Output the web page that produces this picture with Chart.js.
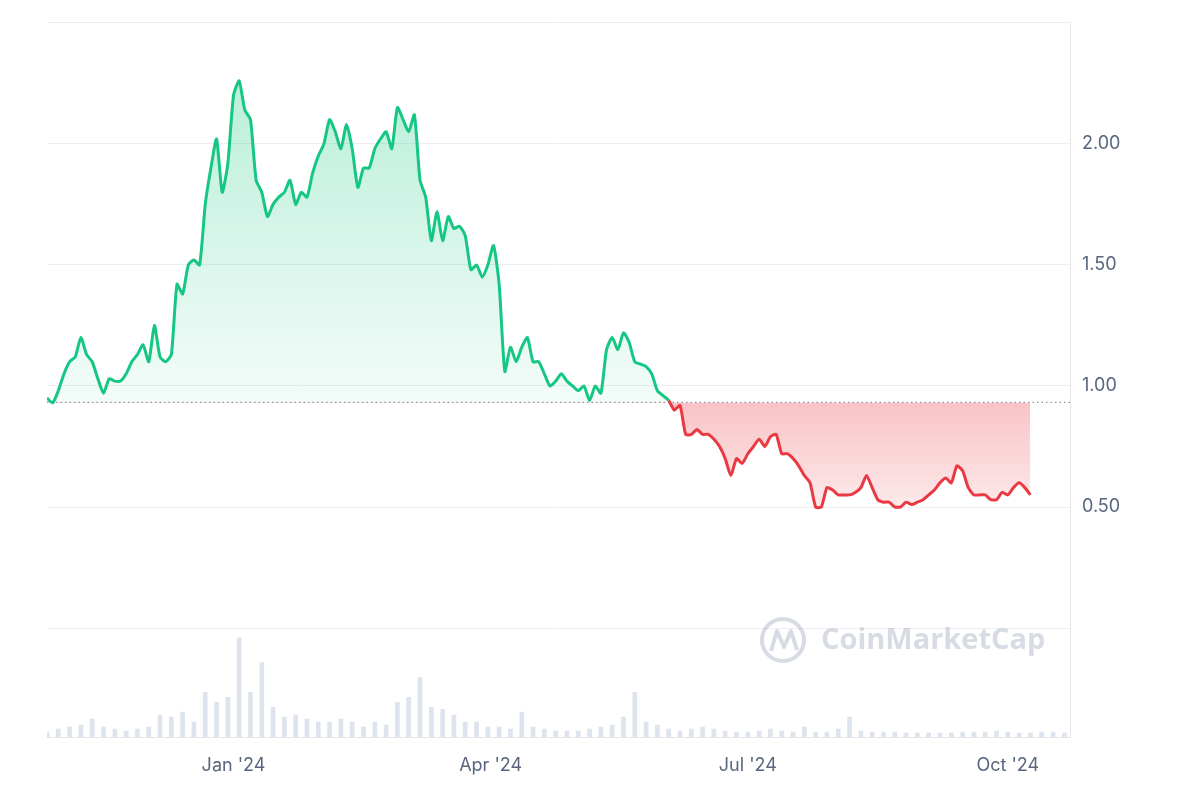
<!DOCTYPE html>
<html>
<head>
<meta charset="utf-8">
<script src="https://cdn.jsdelivr.net/npm/chart.js@4"></script>
<style>
  body { margin: 0; background: #fff; }
  #wrap { width: 1200px; height: 800px; }
</style>
</head>
<body>
<div id="wrap"><canvas id="priceChart"></canvas></div>
<script>
// prices, one point every 2 days starting 27 Oct 2023
const prices = [
  0.95, 0.93, 0.98, 1.05, 1.10, 1.12, 1.20, 1.13, 1.10, 1.03, 0.97, 1.03, 1.02, 1.02, 1.05, 1.10,
  1.13, 1.17, 1.10, 1.25, 1.12, 1.10, 1.13, 1.42, 1.38, 1.50, 1.52, 1.50, 1.75, 1.90, 2.02, 1.80,
  1.92, 2.20, 2.26, 2.14, 2.10, 1.85, 1.80, 1.70, 1.75, 1.78, 1.80, 1.85, 1.75, 1.80, 1.78, 1.88,
  1.95, 2.00, 2.10, 2.05, 1.98, 2.08, 1.98, 1.82, 1.90, 1.90, 1.98, 2.02, 2.05, 1.98, 2.15, 2.10,
  2.05, 2.12, 1.85, 1.78, 1.60, 1.72, 1.60, 1.70, 1.65, 1.66, 1.62, 1.48, 1.50, 1.45, 1.50, 1.58,
  1.42, 1.06, 1.16, 1.10, 1.16, 1.20, 1.10, 1.10, 1.05, 1.00, 1.02, 1.05, 1.02, 1.00, 0.98, 1.00,
  0.94, 1.00, 0.97, 1.15, 1.20, 1.15, 1.22, 1.18, 1.10, 1.09, 1.08, 1.05, 0.98, 0.96, 0.94, 0.90,
  0.92, 0.80, 0.80, 0.82, 0.80, 0.80, 0.78, 0.75, 0.70, 0.63, 0.70, 0.68, 0.72, 0.75, 0.78, 0.75,
  0.79, 0.80, 0.72, 0.72, 0.70, 0.67, 0.63, 0.60, 0.50, 0.50, 0.58, 0.57, 0.55, 0.55, 0.55, 0.56,
  0.58, 0.63, 0.58, 0.53, 0.52, 0.52, 0.50, 0.50, 0.52, 0.51, 0.52, 0.53, 0.55, 0.57, 0.60, 0.62,
  0.60, 0.67, 0.65, 0.58, 0.55, 0.55, 0.55, 0.53, 0.53, 0.56, 0.55, 0.58, 0.60, 0.58, 0.55
]
// volume, one bar every 4 days (relative units)
const volumes = [
  5, 8, 10, 12, 18, 10, 8, 6, 8, 10, 22, 20, 25, 15, 45, 35, 40, 100, 45, 75, 30, 20, 22, 18, 15,
  15, 18, 15, 10, 15, 12, 35, 40, 60, 30, 28, 22, 15, 15, 10, 10, 8, 25, 10, 8, 6, 6, 6, 8, 10,
  12, 20, 45, 15, 12, 8, 6, 8, 10, 8, 6, 5, 5, 6, 8, 6, 5, 10, 5, 5, 8, 20, 6, 5, 5, 5, 4, 4,
  4, 4, 4, 5, 5, 5, 6, 5, 4, 4, 5, 5, 4
]
const tickDays = [66, 157, 248, 340]
const tickLabels = ["Jan '24", "Apr '24", "Jul '24", "Oct '24"]
const basePrice = 0.932

const green = '#16c784'
const red = '#ea3943'

const pricePoints = prices.map((p, i) => ({ x: i * 2, y: p }))
const volumePoints = volumes.map((v, i) => ({ x: i * 4, y: v }))

const baselinePlugin = {
  id: 'baseline',
  beforeDatasetsDraw(chart) {
    const { ctx, chartArea, scales } = chart
    const y = scales.y.getPixelForValue(basePrice)
    ctx.save()
    ctx.strokeStyle = '#8a939f'
    ctx.lineWidth = 1.2
    ctx.setLineDash([1.5, 3])
    ctx.beginPath()
    ctx.moveTo(chartArea.left, y)
    ctx.lineTo(chartArea.right, y)
    ctx.stroke()
    ctx.restore()
  },
  afterDraw(chart) {
    // watermark
    const ctx = chart.ctx
    ctx.save()
    ctx.globalAlpha = 0.45
    ctx.strokeStyle = '#a6b0c3'
    ctx.lineWidth = 4
    ctx.lineJoin = 'round'
    ctx.beginPath()
    ctx.arc(783, 640, 21, 0, Math.PI * 2)
    ctx.stroke()
    ctx.beginPath()
    ctx.moveTo(771, 651); ctx.lineTo(777, 631); ctx.lineTo(784, 647); ctx.lineTo(791, 631); ctx.lineTo(797, 650)
    ctx.stroke()
    ctx.fillStyle = '#a6b0c3'
    ctx.font = 'bold 29px "Open Sans", sans-serif'
    ctx.textBaseline = 'middle'
    ctx.fillText('CoinMarketCap', 821, 641)
    ctx.restore()
  }
}

const ctx = document.getElementById('priceChart').getContext('2d')
const chart = new Chart(ctx, {
  data: {
    datasets: [
      {
        type: 'line',
        data: pricePoints,
        yAxisID: 'y',
        borderWidth: 3,
        pointRadius: 0,
        tension: 0.2,
        borderColor: green,
        segment: {
          borderColor: c => ((c.p0.parsed.y + c.p1.parsed.y) / 2 < basePrice ? red : green)
        },
        fill: { target: { value: basePrice }, above: 'rgba(22,199,132,0.2)', below: 'rgba(234,57,67,0.2)' },
        order: 1
      },
      {
        type: 'bar',
        data: volumePoints,
        yAxisID: 'y2',
        backgroundColor: 'rgba(190,202,220,0.5)',
        barThickness: 4,
        order: 2
      }
    ]
  },
  options: {
    responsive: true,
    maintainAspectRatio: false,
    animation: false,
    layout: { padding: { left: 47, top: 20, right: 0, bottom: 0 } },
    plugins: { legend: { display: false }, tooltip: { enabled: false } },
    scales: {
      x: {
        type: 'linear',
        offset: false,
        min: 0,
        max: 362,
        afterBuildTicks: a => { a.ticks = tickDays.map(v => ({ value: v })) },
        ticks: {
          callback: v => tickLabels[tickDays.indexOf(v)],
          color: '#58667e',
          font: { size: 18, family: 'Inter, sans-serif' },
          padding: 10,
          maxRotation: 0
        },
        grid: { display: false },
        border: { display: true, color: '#e3e6ea' },
        afterFit: a => { a.height = 63 }
      },
      y: {
        position: 'right',
        min: -0.45,
        max: 2.5,
        afterBuildTicks: a => { a.ticks = [0, 0.5, 1, 1.5, 2, 2.5].map(v => ({ value: v })) },
        ticks: {
          callback: v => (v > 0 && v < 2.4 ? v.toFixed(2) : ''),
          color: '#58667e',
          font: { size: 18, family: 'Inter, sans-serif' },
          padding: 12
        },
        grid: { color: '#eceef1', drawTicks: false },
        border: { display: true, color: '#e3e6ea' },
        afterFit: a => { a.width = 130 }
      },
      y2: {
        display: false,
        min: 0,
        max: 720
      }
    }
  },
  plugins: [baselinePlugin]
})

// vertical gradient fill, fading toward the baseline
const ys = chart.scales.y
const gUp = ctx.createLinearGradient(0, ys.getPixelForValue(2.3), 0, ys.getPixelForValue(basePrice))
gUp.addColorStop(0, 'rgba(22,199,132,0.3)')
gUp.addColorStop(1, 'rgba(22,199,132,0.05)')
const gDown = ctx.createLinearGradient(0, ys.getPixelForValue(basePrice), 0, ys.getPixelForValue(0.48))
gDown.addColorStop(0, 'rgba(234,57,67,0.3)')
gDown.addColorStop(1, 'rgba(234,57,67,0.1)')
chart.data.datasets[0].fill = { target: { value: basePrice }, above: gUp, below: gDown }
chart.update('none')
</script>
</body>
</html>
